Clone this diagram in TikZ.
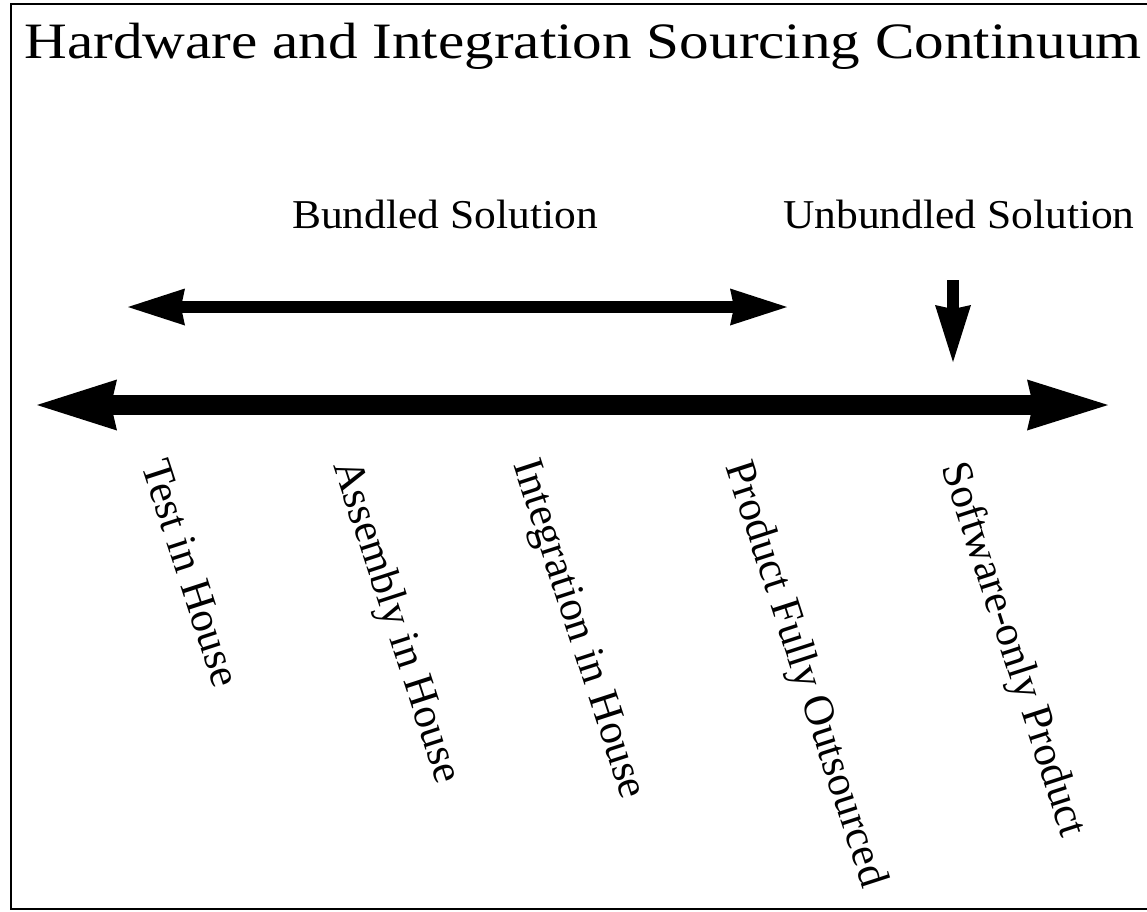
\documentclass[tikz,border=0pt]{standalone}
\usepackage{fontspec}
\setmainfont{Liberation Serif}
\newfontfamily\titlefont[FakeStretch=1.16]{Liberation Serif}
\newfontfamily\labfont[FakeStretch=1.06]{Liberation Serif}
\usetikzlibrary{arrows.meta}
\tikzset{
  titletext/.style={inner sep=0pt, font=\titlefont\fontsize{51}{60}\selectfont},
  soltext/.style={inner sep=0pt, font=\labfont\fontsize{41}{48}\selectfont},
  steptext/.style={inner sep=0pt, rotate=-72, font=\fontsize{43}{50}\selectfont},
  bigarrow/.style={line width=20pt, {Stealth[length=80pt,width=51pt,inset=6pt,line width=0pt]}-{Stealth[length=81pt,width=51pt,inset=6pt,line width=0pt]}},
  midarrow/.style={line width=12.5pt, {Stealth[length=57pt,width=37pt,inset=4pt,line width=0pt]}-{Stealth[length=57pt,width=37pt,inset=4pt,line width=0pt]}},
  downarrow/.style={line width=12pt, -{Stealth[length=57pt,width=36pt,inset=4pt,line width=0pt]}},
  frameline/.style={line width=2pt}
}
\begin{document}
\begin{tikzpicture}[x=1pt,y=-1pt]
\useasboundingbox (0,0) rectangle (1147,911);
\coordinate (fTR) at (1147,4);
\coordinate (fTL) at (11,4);
\coordinate (fBL) at (11,909);
\coordinate (fBR) at (1147,909);
\draw[frameline] (fTR) -- (fTL) -- (fBL) -- (fBR);

\node[titletext, anchor=base] (title) at (583,58) {Hardware and Integration Sourcing Continuum};
\node[soltext, anchor=base] (bund) at (445,228) {Bundled Solution};
\node[soltext, anchor=base] (unbund) at (959,228) {Unbundled Solution};

\coordinate (bL) at (128,307);
\coordinate (bR) at (787,307);
\draw[midarrow] (bL) -- (bR);

\coordinate (dT) at (953,280);
\coordinate (dB) at (953,362);
\draw[downarrow] (dT) -- (dB);

\coordinate (mL) at (37,405);
\coordinate (mR) at (1108,405);
\draw[bigarrow] (mL) -- (mR);

\node[steptext] (s1) at (191,573) {Test in House};
\node[steptext] (s2) at (395,622) {Assembly in House};
\node[steptext] (s3) at (577,630) {Integration in House};
\node[steptext] (s4) at (804,675) {Product Fully Outsourced};
\node[steptext] (s5) at (1012,650) {Software-only Product};
\end{tikzpicture}
\end{document}
